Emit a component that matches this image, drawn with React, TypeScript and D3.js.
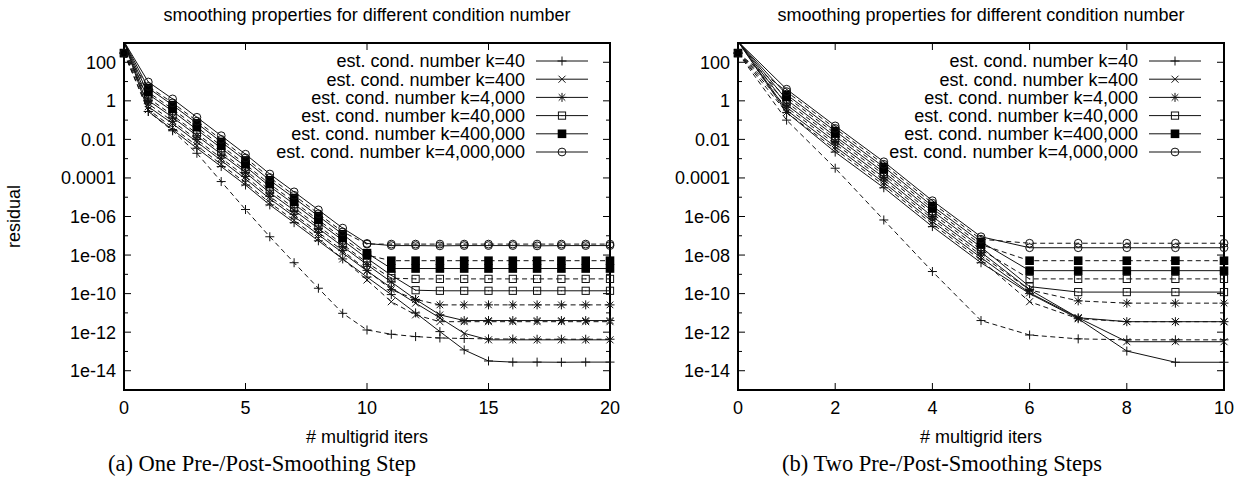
import React, { useEffect, useRef } from "react"
import * as d3 from "d3"

const WIDTH = 1247
const HEIGHT = 485
const TOP = 43
const BOTTOM = 390

const legendLabels = [
    "est. cond. number k=40",
    "est. cond. number k=400",
    "est. cond. number k=4,000",
    "est. cond. number k=40,000",
    "est. cond. number k=400,000",
    "est. cond. number k=4,000,000",
]
const markerKinds = ["plus", "cross", "star", "box", "boxFilled", "circle"]

// (a) one pre-/post-smoothing step, iterations 0..20
const itersA = [0, 1, 2, 3, 4, 5, 6, 7, 8, 9, 10, 11, 12, 13, 14, 15, 16, 17, 18, 19, 20]
const aSolidK40 = [1200, 0.28, 0.032, 3.5e-3, 3.9e-4, 4.3e-5, 4.0e-6, 4.8e-7, 5.5e-8, 6.3e-9, 7.2e-10, 8.9e-11, 1.0e-11, 1.07e-12, 1.2e-13, 3.2e-14, 2.8e-14, 2.8e-14, 2.75e-14, 2.8e-14, 2.8e-14]
const aSolidK400 = [1200, 0.5, 0.066, 7.4e-3, 8.1e-4, 8.9e-5, 8.3e-6, 1.0e-6, 1.15e-7, 1.3e-8, 1.5e-9, 2.0e-10, 3.2e-11, 5.5e-12, 8.7e-13, 4.0e-13, 4.0e-13, 4.0e-13, 4.0e-13, 4.0e-13, 4.0e-13]
const aSolidK4e3 = [1200, 1.05, 0.14, 0.0155, 1.7e-3, 1.9e-4, 1.7e-5, 2.1e-6, 2.4e-7, 2.8e-8, 3.2e-9, 4.0e-10, 5.0e-11, 7.9e-12, 4.0e-12, 4.0e-12, 4.0e-12, 4.0e-12, 4.0e-12, 4.0e-12, 4.0e-12]
const aSolidK4e4 = [1200, 2.2, 0.29, 0.032, 3.5e-3, 3.9e-4, 3.6e-5, 4.4e-6, 5.0e-7, 5.8e-8, 6.8e-9, 8.9e-10, 1.5e-10, 1.4e-10, 1.4e-10, 1.4e-10, 1.4e-10, 1.4e-10, 1.4e-10, 1.4e-10, 1.4e-10]
const aSolidK4e5 = [1200, 4.6, 0.6, 0.068, 7.4e-3, 8.1e-4, 7.6e-5, 9.1e-6, 1.05e-6, 1.2e-7, 1.26e-8, 2.0e-9, 2.0e-9, 2.0e-9, 2.0e-9, 2.0e-9, 2.0e-9, 2.0e-9, 2.0e-9, 2.0e-9, 2.0e-9]
const aSolidK4e6 = [1200, 9.5, 1.26, 0.14, 0.0155, 1.7e-3, 1.6e-4, 1.9e-5, 2.2e-6, 2.5e-7, 4.0e-8, 3.1e-8, 3.1e-8, 3.0e-8, 3.1e-8, 3.1e-8, 3.1e-8, 3.0e-8, 3.1e-8, 3.1e-8, 3.1e-8]
const aDashK40 = [300, 0.28, 0.028, 1.9e-3, 6.5e-5, 2.3e-6, 8.9e-8, 4.0e-9, 1.9e-10, 9.5e-12, 1.3e-12, 7.8e-13, 5.9e-13, 5.0e-13, 4.7e-13, 4.5e-13, 4.4e-13, 4.3e-13, 4.3e-13, 4.3e-13, 4.3e-13]
const aDashK400 = [300, 0.35, 0.042, 4.7e-3, 5.1e-4, 5.6e-5, 5.2e-6, 6.3e-7, 7.2e-8, 6.3e-9, 5.1e-10, 3.8e-11, 7.9e-12, 3.5e-12, 3.5e-12, 3.5e-12, 3.5e-12, 3.5e-12, 3.5e-12, 3.5e-12, 3.5e-12]
const aDashK4e3 = [300, 0.71, 0.087, 9.8e-3, 1.07e-3, 1.2e-4, 1.1e-5, 1.3e-6, 1.5e-7, 1.7e-8, 1.6e-9, 1.6e-10, 5.0e-11, 2.6e-11, 2.6e-11, 2.6e-11, 2.6e-11, 2.6e-11, 2.6e-11, 2.6e-11, 2.6e-11]
const aDashK4e4 = [300, 1.4, 0.18, 0.02, 2.2e-3, 2.5e-4, 2.3e-5, 2.8e-6, 3.2e-7, 3.6e-8, 4.0e-9, 6.3e-10, 5.8e-10, 5.8e-10, 5.8e-10, 5.8e-10, 5.8e-10, 5.8e-10, 5.8e-10, 5.8e-10, 5.8e-10]
const aDashK4e5 = [300, 2.8, 0.38, 0.043, 4.7e-3, 5.1e-4, 4.8e-5, 5.8e-6, 6.6e-7, 7.6e-8, 1.0e-8, 5.1e-9, 5.1e-9, 5.1e-9, 5.1e-9, 5.1e-9, 5.1e-9, 5.1e-9, 5.1e-9, 5.1e-9, 5.1e-9]
const aDashK4e6 = [300, 5.6, 0.79, 0.089, 0.01, 1.1e-3, 1.05e-4, 1.26e-5, 1.4e-6, 1.6e-7, 3.7e-8, 3.7e-8, 3.7e-8, 3.7e-8, 3.7e-8, 3.7e-8, 3.7e-8, 3.7e-8, 3.7e-8, 3.7e-8, 3.7e-8]

// (b) two pre-/post-smoothing steps, iterations 0..10
const itersB = [0, 1, 2, 3, 4, 5, 6, 7, 8, 9, 10]
const bSolidK40 = [1200, 0.25, 2.2e-3, 3.1e-5, 3.0e-7, 4.0e-9, 1.0e-10, 5.0e-12, 1.05e-13, 2.75e-14, 2.75e-14]
const bSolidK400 = [1200, 0.33, 4.2e-3, 5.8e-5, 5.5e-7, 7.4e-9, 1.1e-10, 5.6e-12, 3.2e-13, 3.2e-13, 3.2e-13]
const bSolidK4e3 = [1200, 0.62, 7.8e-3, 1.07e-4, 1.0e-6, 1.4e-8, 1.6e-10, 5.6e-12, 3.5e-12, 3.5e-12, 3.5e-12]
const bSolidK4e4 = [1200, 1.15, 0.0145, 2.0e-4, 1.9e-6, 2.6e-8, 2.3e-10, 1.2e-10, 1.2e-10, 1.2e-10, 1.2e-10]
const bSolidK4e5 = [1200, 2.1, 0.027, 3.7e-4, 3.5e-6, 4.8e-8, 1.55e-9, 1.55e-9, 1.55e-9, 1.55e-9, 1.55e-9]
const bSolidK4e6 = [1200, 4.0, 0.05, 6.9e-4, 6.6e-6, 8.9e-8, 2.4e-8, 2.4e-8, 2.4e-8, 2.4e-8, 2.4e-8]
const bDashK40 = [300, 0.1, 3.2e-4, 6.6e-7, 1.4e-9, 4.0e-12, 7.1e-13, 4.5e-13, 4.0e-13, 4.0e-13, 4.0e-13]
const bDashK400 = [300, 0.25, 3.1e-3, 4.3e-5, 4.1e-7, 5.5e-9, 3.8e-11, 5.0e-12, 3.5e-12, 3.5e-12, 3.5e-12]
const bDashK4e3 = [300, 0.46, 5.8e-3, 7.9e-5, 7.6e-7, 1.0e-8, 1.55e-10, 4.2e-11, 3.2e-11, 3.2e-11, 3.2e-11]
const bDashK4e4 = [300, 0.85, 0.0107, 1.5e-4, 1.4e-6, 1.9e-8, 5.8e-10, 5.8e-10, 5.8e-10, 5.8e-10, 5.8e-10]
const bDashK4e5 = [300, 1.6, 0.02, 2.75e-4, 2.6e-6, 3.5e-8, 5.1e-9, 5.1e-9, 5.1e-9, 5.1e-9, 5.1e-9]
const bDashK4e6 = [300, 3.0, 0.037, 5.1e-4, 4.9e-6, 6.6e-8, 4.1e-8, 4.1e-8, 4.1e-8, 4.1e-8, 4.1e-8]

const yTickLabels = ["100", "1", "0.01", "0.0001", "1e-06", "1e-08", "1e-10", "1e-12", "1e-14"]
const yTickValues = [1e2, 1, 1e-2, 1e-4, 1e-6, 1e-8, 1e-10, 1e-12, 1e-14]

interface PanelCfg {
    id: string
    left: number
    right: number
    xMax: number
    xTicks: number[]
    iters: number[]
    solid: number[][]
    dashed: number[][]
    legendRight: number
    caption: string
    captionX: number
    yLabel: boolean
}

const panels: PanelCfg[] = [
    {
        id: "a",
        left: 124,
        right: 610,
        xMax: 20,
        xTicks: [0, 5, 10, 15, 20],
        iters: itersA,
        solid: [aSolidK40, aSolidK400, aSolidK4e3, aSolidK4e4, aSolidK4e5, aSolidK4e6],
        dashed: [aDashK40, aDashK400, aDashK4e3, aDashK4e4, aDashK4e5, aDashK4e6],
        legendRight: 525,
        caption: "(a) One Pre-/Post-Smoothing Step",
        captionX: 262,
        yLabel: true,
    },
    {
        id: "b",
        left: 738,
        right: 1224,
        xMax: 10,
        xTicks: [0, 2, 4, 6, 8, 10],
        iters: itersB,
        solid: [bSolidK40, bSolidK400, bSolidK4e3, bSolidK4e4, bSolidK4e5, bSolidK4e6],
        dashed: [bDashK40, bDashK400, bDashK4e3, bDashK4e4, bDashK4e5, bDashK4e6],
        legendRight: 1138,
        caption: "(b) Two Pre-/Post-Smoothing Steps",
        captionX: 942,
        yLabel: false,
    },
]

const SANS = "'Liberation Sans', Arial, Helvetica, sans-serif"
const SERIF = "'Liberation Serif', 'Times New Roman', serif"
const INK = "#111"

const drawMarker = (g: d3.Selection<SVGGElement, unknown, null, undefined>, kind: string, x: number, y: number) => {
    const m = g.append("g").attr("transform", `translate(${x},${y})`)
    const stroke = (p: string) => m.append("path").attr("d", p).attr("fill", "none").attr("stroke", INK).attr("stroke-width", 1)
    if (kind === "plus") stroke("M-4.5,0H4.5M0,-4.5V4.5")
    else if (kind === "cross") stroke("M-3.5,-3.5L3.5,3.5M-3.5,3.5L3.5,-3.5")
    else if (kind === "star") stroke("M-4.5,0H4.5M0,-4.5V4.5M-3.3,-3.3L3.3,3.3M-3.3,3.3L3.3,-3.3")
    else if (kind === "box") {
        m.append("rect").attr("x", -3.6).attr("y", -3.6).attr("width", 7.2).attr("height", 7.2)
            .attr("fill", "none").attr("stroke", INK).attr("stroke-width", 1)
        m.append("rect").attr("x", -0.5).attr("y", -0.5).attr("width", 1).attr("height", 1).attr("fill", INK)
    } else if (kind === "boxFilled") {
        m.append("rect").attr("x", -4.3).attr("y", -4.3).attr("width", 8.6).attr("height", 8.6).attr("fill", "#000")
    } else if (kind === "circle") {
        m.append("circle").attr("r", 3.9).attr("fill", "none").attr("stroke", INK).attr("stroke-width", 1)
        m.append("rect").attr("x", -0.5).attr("y", -0.5).attr("width", 1).attr("height", 1).attr("fill", INK)
    }
}

const SmoothingCharts: React.FC = () => {
    const svgRef = useRef<SVGSVGElement | null>(null)

    useEffect(() => {
        if (!svgRef.current) return
        const svg = d3.select(svgRef.current)
        svg.selectAll("*").remove()

        const yScale = d3.scaleLog().domain([1e-15, 1e3]).range([BOTTOM, TOP])

        panels.forEach(p => {
            const xScale = d3.scaleLinear().domain([0, p.xMax]).range([p.left, p.right])
            const g = svg.append("g")
            const midX = (p.left + p.right) / 2

            g.append("clipPath").attr("id", `clip-${p.id}`)
                .append("rect").attr("x", p.left).attr("y", TOP)
                .attr("width", p.right - p.left).attr("height", BOTTOM - TOP)

            // title
            g.append("text").attr("x", midX).attr("y", 21).attr("text-anchor", "middle")
                .style("font-family", SANS).style("font-size", "18px").text("smoothing properties for different condition number")

            // ticks (all four sides, inward)
            const ticks = g.append("g").attr("stroke", "#000").attr("stroke-width", 1)
            for (let e = -15; e <= 3; e++) {
                const y = yScale(Math.pow(10, e))
                const len = e % 2 === 0 ? 7 : 4
                ticks.append("line").attr("x1", p.left).attr("x2", p.left + len).attr("y1", y).attr("y2", y)
                ticks.append("line").attr("x1", p.right).attr("x2", p.right - len).attr("y1", y).attr("y2", y)
            }
            p.xTicks.forEach(t => {
                const x = xScale(t)
                ticks.append("line").attr("x1", x).attr("x2", x).attr("y1", BOTTOM).attr("y2", BOTTOM - 7)
                ticks.append("line").attr("x1", x).attr("x2", x).attr("y1", TOP).attr("y2", TOP + 7)
            })

            // tick labels
            yTickValues.forEach((v, i) => {
                g.append("text").attr("x", p.left - 8).attr("y", yScale(v)).attr("dy", "0.36em")
                    .attr("text-anchor", "end").style("font-family", SANS).style("font-size", "18px")
                    .text(yTickLabels[i])
            })
            p.xTicks.forEach(t => {
                g.append("text").attr("x", xScale(t)).attr("y", 414).attr("text-anchor", "middle")
                    .style("font-family", SANS).style("font-size", "18px").text(String(t))
            })

            // series: lines clipped to the plot box, points drawn only when inside the y range
            const plot = g.append("g").attr("clip-path", `url(#clip-${p.id})`)
            const points = g.append("g")
            const line = d3.line<number>()
                .x((_, i) => xScale(p.iters[i]))
                .y(d => yScale(d))
            const drawSeries = (vals: number[], k: number, dashed: boolean) => {
                plot.append("path").datum(vals).attr("d", line)
                    .attr("fill", "none").attr("stroke", INK).attr("stroke-width", 1)
                    .attr("stroke-dasharray", dashed ? "5,3.5" : null)
                vals.forEach((v, i) => {
                    if (v > 1e3) return
                    drawMarker(points, markerKinds[k], xScale(p.iters[i]), yScale(v))
                })
            }
            p.solid.forEach((s, k) => drawSeries(s, k, false))
            p.dashed.forEach((s, k) => drawSeries(s, k, true))

            // frame
            g.append("rect").attr("x", p.left).attr("y", TOP)
                .attr("width", p.right - p.left).attr("height", BOTTOM - TOP)
                .attr("fill", "none").attr("stroke", "#000").attr("stroke-width", 2)
            g.node()!.appendChild(points.node()!)

            // legend
            legendLabels.forEach((lab, k) => {
                const y = 61 + k * 18.2
                g.append("text").attr("x", p.legendRight).attr("y", y).attr("dy", "0.36em")
                    .attr("text-anchor", "end").style("font-family", SANS).style("font-size", "18px").text(lab)
                g.append("line").attr("x1", p.legendRight + 11).attr("x2", p.legendRight + 63)
                    .attr("y1", y).attr("y2", y).attr("stroke", INK).attr("stroke-width", 1)
                drawMarker(g, markerKinds[k], p.legendRight + 37, y)
            })

            // axis labels + caption
            g.append("text").attr("x", midX).attr("y", 443).attr("text-anchor", "middle")
                .style("font-family", SANS).style("font-size", "18px").text("# multigrid iters")
            if (p.yLabel) {
                g.append("text").attr("transform", `translate(20,${(TOP + BOTTOM) / 2}) rotate(-90)`)
                    .attr("text-anchor", "middle").style("font-family", SANS).style("font-size", "18px")
                    .text("residual")
            }
            g.append("text").attr("x", p.captionX).attr("y", 471).attr("text-anchor", "middle")
                .style("font-family", SERIF).style("font-size", "22.5px").text(p.caption)
        })
    }, [])

    return (
        <svg
            ref={svgRef}
            width={WIDTH}
            height={HEIGHT}
            style={{ position: "absolute", left: 0, top: 0, background: "#fff" }}
        />
    )
}

export default SmoothingCharts
